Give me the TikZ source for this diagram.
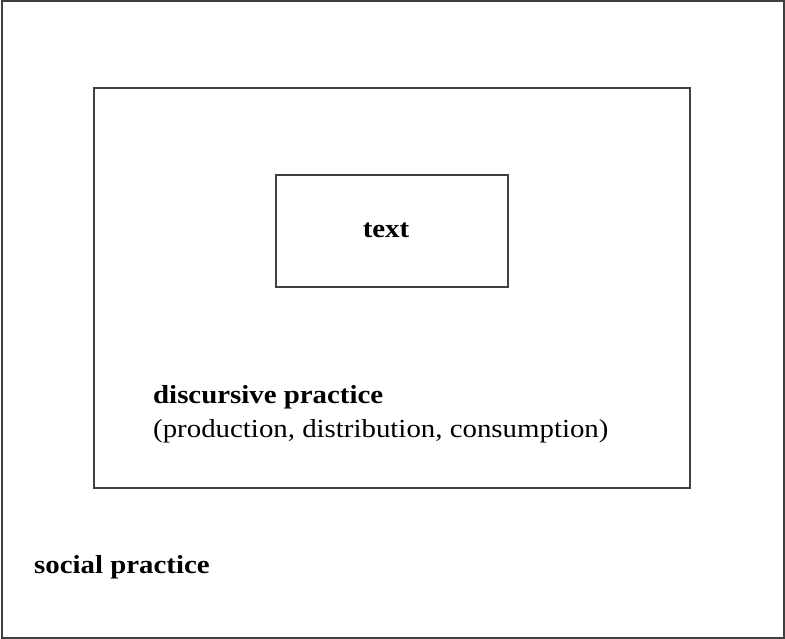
\documentclass[tikz,border=0pt]{standalone}
\usepackage{fontspec}
\setmainfont{Liberation Serif}[FakeStretch=1.11]
\begin{document}
\begin{tikzpicture}[x=1pt,y=-1pt,
  frame/.style={draw=black!75,line width=2pt},
  lbl/.style={inner sep=0pt,anchor=base west,font=\fontsize{26}{30}\selectfont}]
\useasboundingbox (0,0) rectangle (785,639);
\draw[frame] (1.5,1.5) rectangle (783.5,637.5);
\draw[frame] (94,88) rectangle (690,488);
\node[frame,minimum width=232pt,minimum height=112pt,inner sep=0pt] (textbox) at (392,231) {};
\node[inner sep=0pt,anchor=base,font=\fontsize{26}{30}\selectfont\bfseries] (textlbl) at (386,238) {text};
\node[lbl,font=\fontsize{26}{30}\selectfont\bfseries] (disc) at (153,403) {discursive practice};
\node[lbl] (discsub) at (153,437) {(production, distribution, consumption)};
\node[lbl,font=\fontsize{26}{30}\selectfont\bfseries] (social) at (34,573) {social practice};
\end{tikzpicture}
\end{document}
